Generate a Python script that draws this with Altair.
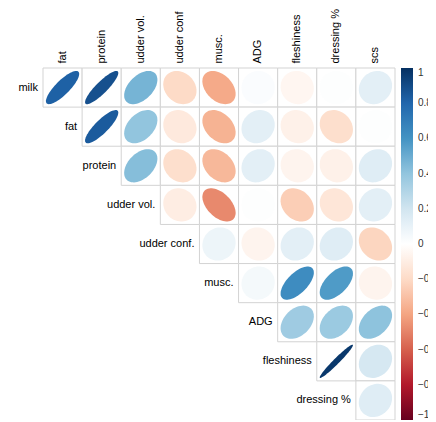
import altair as alt
import numpy as np
import pandas as pd

col_labels = ["fat", "protein", "udder vol.", "udder conf", "musc.", "ADG",
              "fleshiness", "dressing %", "scs"]
row_labels = ["milk", "fat", "protein", "udder vol.", "udder conf.", "musc.",
              "ADG", "fleshiness", "dressing %"]

# upper-triangle correlations, row by row (first value = first cell right of the diagonal)
r_milk = [0.82, 0.88, 0.47, -0.20, -0.38, 0.02, -0.05, 0.01, 0.12]
r_fat = [0.84, 0.40, -0.12, -0.35, 0.12, -0.08, -0.18, 0.01]
r_protein = [0.43, -0.18, -0.33, 0.12, -0.06, -0.08, 0.14]
r_udder_vol = [-0.10, -0.48, 0.01, -0.25, -0.14, 0.12]
r_udder_conf = [0.08, -0.06, 0.12, 0.14, -0.22]
r_musc = [0.05, 0.63, 0.57, -0.06]
r_adg = [0.36, 0.37, 0.41]
r_fleshiness = [0.97, 0.18]
r_dressing = [0.14]

rows_r = [r_milk, r_fat, r_protein, r_udder_vol, r_udder_conf, r_musc,
          r_adg, r_fleshiness, r_dressing]

palette_domain = [-1, -0.8, -0.6, -0.4, -0.2, 0, 0.2, 0.4, 0.6, 0.8, 1]
palette_range = ["#67001F", "#B2182B", "#D6604D", "#F4A582", "#FDDBC7", "#FFFFFF",
                 "#D1E5F0", "#92C5DE", "#4393C3", "#2166AC", "#053061"]


def ellipse_path(r, n=64):
    a = np.arccos(r)
    k = np.linspace(0, 2 * np.pi, n, endpoint=False)
    xs = np.cos(k + a / 2)
    ys = -np.cos(k - a / 2)
    pts = [f"{x:.3f},{y:.3f}" for x, y in zip(xs, ys)]
    return "M" + " L".join(pts) + " Z"


recs = []
for i, vals in enumerate(rows_r):
    for j, r in enumerate(vals):
        recs.append({"row": row_labels[i], "col": col_labels[i + j], "r": r,
                     "path": ellipse_path(r)})
cells = pd.DataFrame(recs)
labels = pd.DataFrame({"row": row_labels, "col": col_labels})

cell = 352 / 9
FONT = "Liberation Sans"

xs = alt.Scale(domain=col_labels, paddingInner=0, paddingOuter=0)
ys = alt.Scale(domain=row_labels, paddingInner=0, paddingOuter=0)

x_enc = alt.X("col:N", scale=xs, sort=col_labels,
              axis=alt.Axis(orient="top", labelAngle=270, labelAlign="left",
                            labelBaseline="middle", ticks=False, domain=False,
                            labelPadding=5, labelFontSize=11, labelColor="#000",
                            labelFont=FONT, title=None, grid=False))
y_enc = alt.Y("row:N", scale=ys, sort=row_labels, axis=None)

grid = alt.Chart(cells).mark_rect(fill="white", stroke="#d3d3d3", strokeWidth=1).encode(
    x=x_enc, y=y_enc)

ell = alt.Chart(cells).mark_point(filled=True, opacity=1, strokeWidth=0).encode(
    x=alt.X("col:N", scale=xs, sort=col_labels),
    y=alt.Y("row:N", scale=ys, sort=row_labels),
    shape=alt.Shape("path:N", scale=None, legend=None),
    size=alt.value((0.85 * cell) ** 2),
    color=alt.Color("r:Q",
                    scale=alt.Scale(domain=palette_domain, range=palette_range,
                                    interpolate="rgb"),
                    legend=alt.Legend(title=None, orient="right", offset=6,
                                      gradientLength=352, gradientThickness=12,
                                      gradientStrokeWidth=0,
                                      values=[1, 0.8, 0.6, 0.4, 0.2, 0, -0.2, -0.4, -0.6, -0.8, -1],
                                      format="~g", labelFontSize=10, labelFont=FONT,
                                      labelColor="#333", labelBaseline="middle",
                                      labelOffset=5, direction="vertical")),
)

txt = alt.Chart(labels).mark_text(align="right", baseline="middle", dx=-5,
                                  fontSize=11, font=FONT, color="#000").encode(
    x=alt.X("col:N", scale=xs, sort=col_labels, bandPosition=0),
    y=alt.Y("row:N", scale=ys, sort=row_labels),
    text="row:N")

chart = alt.layer(grid, ell, txt).properties(
    width=352, height=352,
    autosize=alt.AutoSizeParams(type="none"),
    padding={"left": 35, "top": 60, "right": 33, "bottom": 0},
).configure_view(stroke=None)

chart.save("out.html", embed_options={"renderer": "svg", "actions": False})
